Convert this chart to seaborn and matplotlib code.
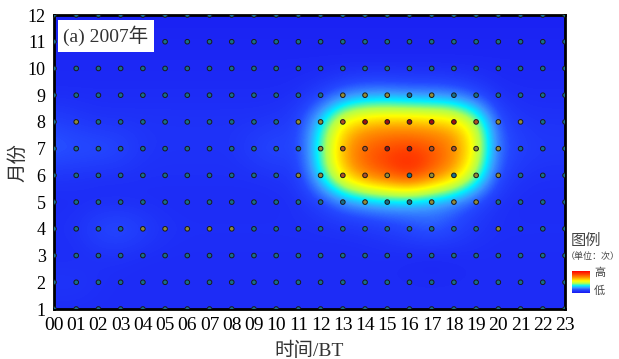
import numpy as np
import pandas as pd
import matplotlib
matplotlib.use("Agg")
import matplotlib.pyplot as plt
import seaborn as sns
from matplotlib.colors import LinearSegmentedColormap

# ----------------------------------------------------------
# DATA  (relative frequency per month x hour, 0-100)
# ----------------------------------------------------------
hour_labels = [f"{h:02d}" for h in range(24)]
month_labels = list(range(1, 13))

field_m01 = [6, 6, 6, 6, 6, 6, 6, 6, 6, 6, 6, 6, 6, 6, 6, 6, 6, 6, 6, 6, 6, 6, 6, 6]
field_m02 = [9, 9, 7, 6, 6, 6, 6, 6, 6, 6, 6, 6, 6, 6, 6, 6, 6, 6, 6, 6, 6, 6, 6, 6]
field_m03 = [6, 6, 7, 7, 6, 6, 6, 6, 6, 6, 6, 6, 6, 6, 6, 6, 5, 4, 5, 6, 6, 6, 6, 6]
field_m04 = [7, 8, 14, 16, 12, 8, 7, 7, 7, 7, 7, 7, 7, 7, 8, 10, 14, 18, 14, 9, 7, 7, 7, 7]
field_m05 = [6, 6, 6, 6, 6, 6, 6, 6, 6, 6, 6, 7, 11, 19, 23, 25, 23, 21, 18, 12, 7, 6, 6, 6]
field_m06 = [8, 8, 7, 7, 7, 7, 7, 7, 7, 7, 8, 10, 33, 62, 78, 86, 96, 82, 68, 44, 14, 8, 7, 7]
field_m07 = [18, 16, 16, 14, 9, 8, 8, 8, 8, 12, 15, 12, 38, 68, 82, 86, 88, 84, 76, 54, 18, 12, 10, 10]
field_m08 = [12, 10, 8, 8, 8, 8, 8, 8, 8, 8, 9, 12, 32, 58, 65, 67, 67, 65, 63, 48, 15, 9, 8, 8]
field_m09 = [6, 6, 6, 6, 6, 6, 6, 6, 6, 6, 6, 7, 11, 19, 23, 23, 21, 21, 19, 13, 7, 6, 6, 6]
field_m10 = [5, 5, 5, 5, 5, 5, 5, 5, 5, 5, 5, 5, 5, 5, 5, 5, 5, 5, 5, 5, 5, 5, 5, 5]
field_m11 = [4, 4, 4, 4, 4, 4, 4, 4, 4, 4, 4, 4, 4, 4, 4, 4, 4, 4, 4, 4, 4, 4, 4, 4]
field_m12 = [3, 3, 3, 3, 3, 3, 3, 3, 3, 3, 3, 3, 3, 3, 3, 3, 3, 3, 3, 3, 3, 3, 3, 3]

# station point classes (0 low ... 3 high), one char per hour
dots_m01 = "000000000000000000000000"
dots_m02 = "000000000000000000000000"
dots_m03 = "000000000000000000000000"
dots_m04 = "000011111000000000001000"
dots_m05 = "000000000000001001110000"
dots_m06 = "000000000001122101011000"
dots_m07 = "000000000000122332211000"
dots_m08 = "010000000001123333321100"
dots_m09 = "000000000000011101000000"
dots_m10 = "000000000000000000000000"
dots_m11 = "000000000000000000000000"
dots_m12 = "000000000000000000000000"

field = np.array([field_m01, field_m02, field_m03, field_m04, field_m05, field_m06,
                  field_m07, field_m08, field_m09, field_m10, field_m11, field_m12], dtype=float)
dot_rows = [dots_m01, dots_m02, dots_m03, dots_m04, dots_m05, dots_m06,
            dots_m07, dots_m08, dots_m09, dots_m10, dots_m11, dots_m12]

dots = pd.DataFrame(
    [(h, m, lvl) for m, row in zip(month_labels, dot_rows) for h, lvl in enumerate(row)],
    columns=["hour", "month", "level"],
)

# ----------------------------------------------------------
# STYLE
# ----------------------------------------------------------
sns.set_style("white")
plt.rcParams["font.family"] = ["Liberation Serif", "Noto Sans CJK SC", "DejaVu Sans"]

cmap = LinearSegmentedColormap.from_list(
    "freq",
    [(0.0, "#1818f0"), (0.14, "#2448ff"), (0.24, "#3a98ff"), (0.33, "#00f0ff"),
     (0.44, "#b0ff50"), (0.55, "#ffff00"), (0.70, "#ff9800"), (0.86, "#ff4000"),
     (1.0, "#ff0000")],
)
dot_palette = {"0": "#17708a", "1": "#928c38", "2": "#b05024", "3": "#a01010"}

fig = plt.figure(figsize=(6.19, 3.59), dpi=100)
ax = fig.add_axes([54 / 619, 50 / 359, 511 / 619, 294 / 359])

im = ax.imshow(field, cmap=cmap, vmin=0, vmax=100, origin="lower", aspect="auto",
               interpolation="bicubic", extent=[-0.5, 23.5, 0.5, 12.5])

sns.scatterplot(data=dots, x="hour", y="month", hue="level", palette=dot_palette,
                s=11, edgecolor="#1a1a1a", linewidth=0.7, legend=False, ax=ax, zorder=3)

ax.set_xlim(0, 23)
ax.set_ylim(1, 12)
ax.set_xticks(range(24))
ax.set_xticklabels(hour_labels, fontsize=14)
ax.set_yticks(month_labels)
ax.set_yticklabels(month_labels, fontsize=13)
ax.tick_params(direction="out", length=4, width=1, pad=2, colors="black")
for sp in ax.spines.values():
    sp.set_linewidth(2)
    sp.set_color("black")

ax.set_xlabel("时间/BT", fontsize=14, labelpad=5, color="#333333")
ax.set_ylabel("月份", fontsize=14, labelpad=0, color="#333333")

ax.text(0.42, 11.22, "(a) 2007年", fontsize=14, va="center", ha="left", zorder=5,
        color="#333333", bbox=dict(facecolor="white", edgecolor="none", pad=4))

# legend block on the right
fig.text(571 / 619, 1 - 241 / 359, "图例", fontsize=11, va="center", ha="left", color="#444444")
fig.text(566 / 619, 1 - 257 / 359, "（单位：次）", fontsize=6.5, va="center", ha="left",
         color="#444444", family="Noto Sans CJK SC")
cax = fig.add_axes([572 / 619, 1 - 293 / 359, 18 / 619, 22 / 359])
cb = fig.colorbar(im, cax=cax)
cb.set_ticks([])
cb.outline.set_visible(False)
fig.text(594 / 619, 1 - 273 / 359, "高", fontsize=8, va="center", ha="left", color="#444444")
fig.text(594 / 619, 1 - 291 / 359, "低", fontsize=8, va="center", ha="left", color="#444444")

fig.savefig("out.png", dpi=100)
